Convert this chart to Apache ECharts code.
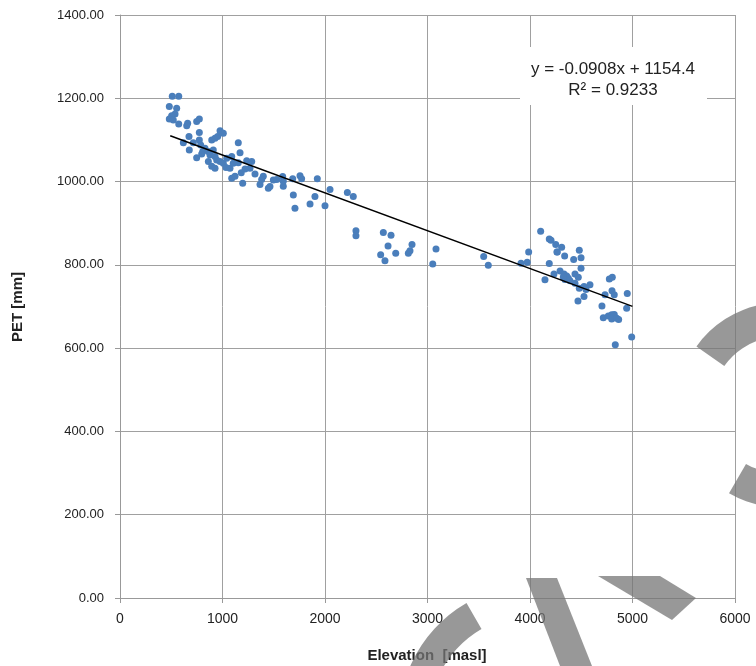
<!DOCTYPE html>
<html>
<head>
<meta charset="utf-8">
<script src="https://cdn.jsdelivr.net/npm/echarts@6/dist/echarts.min.js"></script>
<style>
html,body{margin:0;padding:0;background:#fff;}
#chart{width:756px;height:666px;}
</style>
</head>
<body>
<div id="chart"></div>
<script>
// Elevation [masl]
var elevation = [
 510,573,481,553,537,504,481,520,573,651,660,748,774,774,673,618,676,715,748,774,
 787,807,797,895,927,953,976,1008,829,862,878,910,927,943,862,895,927,976,1008,1041,
 1034,1073,1090,1105,1154,1171,1090,1122,1197,1236,1285,1268,1317,1398,1382,1366,1447,1463,1496,1529,
 1587,1593,1685,1756,1772,1925,1691,1707,1854,1902,2049,2218,2276,2302,2302,2000,1183,1154,1593,1220,
 2569,2644,2615,2543,2585,2690,2813,2829,2849,3083,3051,3548,3593,3912,3973,3987,
 4104,4188,4205,4251,4263,4188,4234,4146,4293,4309,4266,4338,4426,4481,4498,4498,4439,4471,4332,4358,
 4374,4341,4390,4325,4439,4481,4527,4546,4585,4468,4527,4702,4732,4774,4803,4800,4822,4949,4943,4715,
 4764,4797,4822,4797,4846,4865,4992,4832
];
// PET [mm]
var pet = [
 1205,1205,1180,1176,1162,1158,1150,1148,1138,1134,1140,1144,1150,1118,1108,1093,1076,1093,1057,1100,
 1088,1072,1066,1100,1104,1108,1122,1116,1080,1072,1064,1076,1060,1052,1048,1037,1032,1048,1044,1056,
 1034,1032,1060,1044,1093,1069,1008,1013,996,1050,1048,1032,1018,1013,1005,993,984,988,1004,1005,
 1012,989,1007,1014,1007,1007,968,936,946,964,981,974,964,882,870,942,1021,1045,1001,1030,
 878,871,845,824,810,828,828,834,849,838,802,820,799,804,806,831,
 881,862,859,849,831,803,778,764,785,842,831,821,813,835,817,792,778,770,778,773,
 768,765,762,771,756,744,748,741,752,713,724,701,728,766,770,738,728,731,696,673,
 677,680,681,670,672,669,627,608
];
// Linear trendline shown on the chart
var trendSlope = -0.0908;
var trendIntercept = 1154.4;
var trendX = [490, 5000];
var xTicks = [0, 1000, 2000, 3000, 4000, 5000, 6000];
var yTicks = [0, 200, 400, 600, 800, 1000, 1200, 1400];
var eqLine1 = 'y = -0.0908x + 1154.4';
var eqLine2 = 'R² = 0.9233';

var points = elevation.map(function (e, i) { return [e, pet[i]]; });
var trend = trendX.map(function (x) { return [x, trendSlope * x + trendIntercept]; });

var FONT = '"Liberation Sans", Arial, sans-serif';
var WM = 'rgba(118,118,118,0.75)';
var deg = Math.PI / 180;
var chart = echarts.init(document.getElementById('chart'), null, {renderer: 'canvas'});
chart.setOption({
  animation: false,
  backgroundColor: '#ffffff',
  grid: {left: 120, right: 21, top: 15, bottom: 68, containLabel: false},
  xAxis: {
    type: 'value', min: xTicks[0], max: xTicks[xTicks.length - 1], interval: 1000,
    axisLine: {show: true, lineStyle: {color: '#999999', width: 1}},
    axisTick: {show: true, length: 5, lineStyle: {color: '#999999'}},
    axisLabel: {color: '#222222', fontFamily: FONT, fontSize: 14, margin: 14,
      formatter: function (v) { return String(v); }},
    splitLine: {show: true, lineStyle: {color: '#a0a0a0', width: 1}}
  },
  yAxis: {
    type: 'value', min: yTicks[0], max: yTicks[yTicks.length - 1], interval: 200,
    axisLine: {show: true, lineStyle: {color: '#999999', width: 1}},
    axisTick: {show: true, length: 5, lineStyle: {color: '#999999'}},
    axisLabel: {color: '#222222', fontFamily: FONT, fontSize: 13, margin: 16,
      formatter: function (v) { return v.toFixed(2); }},
    splitLine: {show: true, lineStyle: {color: '#a0a0a0', width: 1}}
  },
  series: [
    {type: 'scatter', data: points, symbolSize: 7,
     itemStyle: {color: '#4a7ebb', opacity: 1}, z: 2},
    {type: 'line', data: trend, showSymbol: false, symbol: 'none',
     lineStyle: {color: '#000000', width: 1.5}, z: 3}
  ],
  graphic: [
    {type: 'rect', shape: {x: 520, y: 47, width: 187, height: 58},
     style: {fill: '#ffffff'}, z: 10},
    {type: 'text', x: 613, y: 69, z: 11,
     style: {text: eqLine1, fill: '#222222', font: '17px ' + FONT, textAlign: 'center', textVerticalAlign: 'middle'}},
    {type: 'text', x: 613, y: 90, z: 11,
     style: {text: eqLine2, fill: '#222222', font: '17px ' + FONT, textAlign: 'center', textVerticalAlign: 'middle'}},
    {type: 'text', x: 427, y: 656, z: 11,
     style: {text: 'Elevation  [masl]', fill: '#222222', font: 'bold 15px ' + FONT, textAlign: 'center', textVerticalAlign: 'middle'}},
    {type: 'text', x: 18, y: 307, rotation: Math.PI / 2, z: 11,
     style: {text: 'PET [mm]', fill: '#222222', font: 'bold 15px ' + FONT, textAlign: 'center', textVerticalAlign: 'middle'}},
    // watermark strokes
    {type: 'sector', z: 20, silent: true,
     shape: {cx: 780, cy: 405, r0: 68, r: 102, startAngle: 215 * deg, endAngle: 480 * deg, clockwise: true},
     style: {fill: WM}},
    {type: 'sector', z: 20, silent: true,
     shape: {cx: 534, cy: 720, r0: 105, r: 135, startAngle: 170 * deg, endAngle: 240 * deg, clockwise: true},
     style: {fill: WM}},
    {type: 'polygon', z: 20, silent: true,
     shape: {points: [[526, 578], [557, 578], [592, 666], [560, 666]]},
     style: {fill: WM}},
    {type: 'polygon', z: 20, silent: true,
     shape: {points: [[598, 576], [660, 576], [696, 598], [672, 620]]},
     style: {fill: WM}}
  ]
});
</script>
</body>
</html>
